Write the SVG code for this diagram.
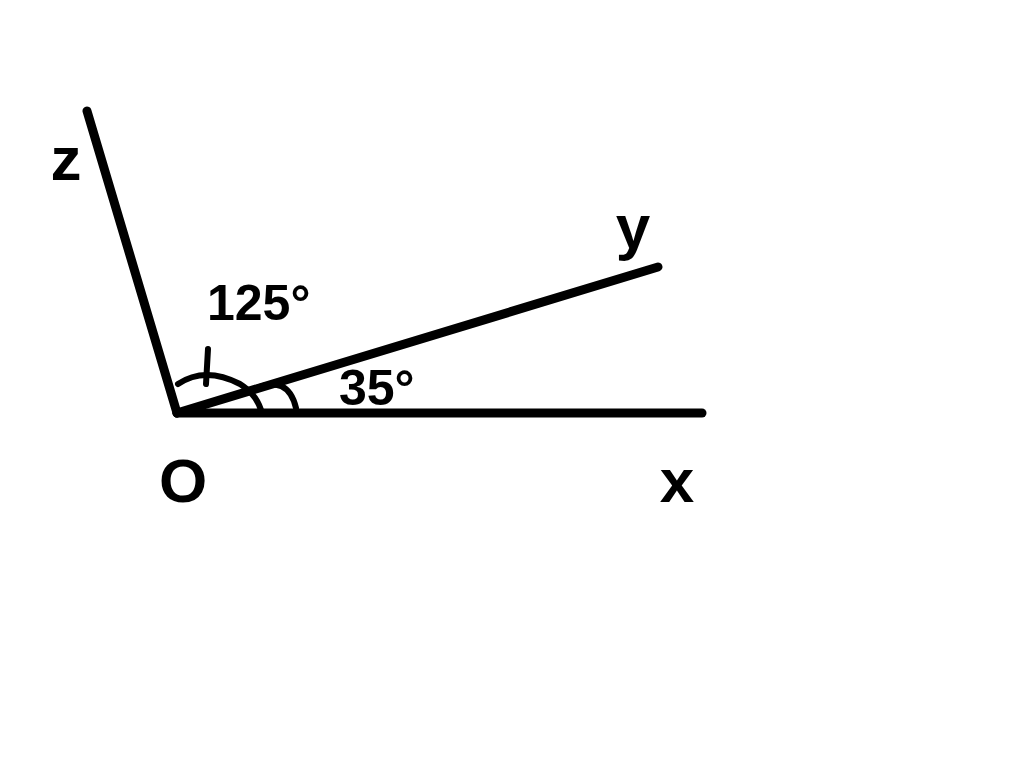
<svg xmlns="http://www.w3.org/2000/svg" width="1024" height="762" viewBox="0 0 1024 762">
<style>
.ray{stroke:#000;stroke-width:9;stroke-linecap:round;fill:none}
.arc{stroke:#000;stroke-width:6;stroke-linecap:round;fill:none}
.lbl{font-family:"Liberation Sans",Arial,sans-serif;font-weight:bold;fill:#000}
.big{font-size:62px;text-anchor:middle}
.num{font-size:50px}
</style>
<rect width="1024" height="762" fill="#fff"/>
<g id="connectors">
<line class="ray" x1="177" y1="413" x2="702" y2="413"/>
<line class="ray" x1="177" y1="413" x2="658" y2="267"/>
<line class="ray" x1="177" y1="413" x2="87" y2="111"/>
<path class="arc" d="M178,384 Q205,366 240,384 Q256,394 261,410"/>
<path class="arc" d="M254,389 Q288,374 296,408"/>
<line class="arc" x1="208" y1="349" x2="206" y2="384"/>
</g>
<g id="label-z"><text class="lbl big" x="66" y="180">z</text></g>
<g id="label-y"><text class="lbl big" x="633" y="248">y</text></g>
<g id="label-O"><text class="lbl big" x="183" y="502">O</text></g>
<g id="label-x"><text class="lbl big" x="677" y="502">x</text></g>
<g id="label-125"><text class="lbl num" x="207" y="320">125°</text></g>
<g id="label-35"><text class="lbl num" x="339" y="405">35°</text></g>
</svg>
